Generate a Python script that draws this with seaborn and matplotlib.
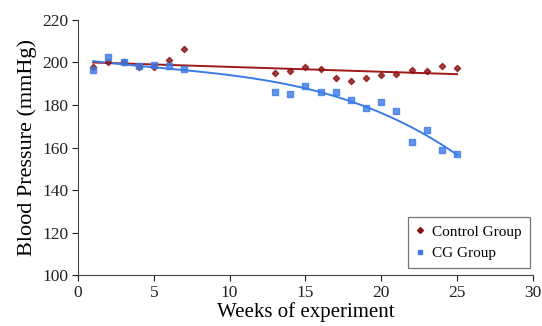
import numpy as np
import pandas as pd
import matplotlib.pyplot as plt
import seaborn as sns
from matplotlib.lines import Line2D

# weeks and blood pressure readings
control_weeks = [1, 2, 3, 4, 5, 6, 7, 13, 14, 15, 16, 17, 18, 19, 20, 21, 22, 23, 24, 25]
control_bp = [198, 200, 200, 198, 198, 201, 206.5, 195, 196, 198, 197, 192.5, 191.5, 192.5, 194, 194.5, 196.5, 196, 198.5, 197.5]

cg_weeks = [1, 2, 3, 4, 5, 6, 7, 13, 14, 15, 16, 17, 18, 19, 20, 21, 22, 23, 24, 25]
cg_bp = [196.5, 202.5, 200, 198.5, 199, 198.5, 197, 186, 185, 189, 186, 186, 182.5, 178.5, 181.5, 177, 162.5, 168, 159, 157]

control = pd.DataFrame({'week': control_weeks, 'bp': control_bp})
cg = pd.DataFrame({'week': cg_weeks, 'bp': cg_bp})

plt.rcParams['font.family'] = ['Liberation Serif', 'DejaVu Serif']

fig, ax = plt.subplots(figsize=(5.42, 3.26), dpi=100)
fig.subplots_adjust(left=0.144, right=0.983, top=0.939, bottom=0.156)

red = '#8B1010'
blue = '#3C7BE6'

sns.regplot(data=control, x='week', y='bp', order=1, ci=None, ax=ax,
            marker='D', scatter_kws={'s': 10, 'color': red, 'zorder': 3},
            line_kws={'color': '#A01818', 'lw': 1.4})
sns.regplot(data=cg, x='week', y='bp', order=3, ci=None, ax=ax,
            marker='s', scatter_kws={'s': 14, 'color': blue, 'zorder': 3},
            line_kws={'color': blue, 'lw': 1.4})

ax.set_xlim(0, 30)
ax.set_ylim(100, 220)
ax.set_xticks(range(0, 31, 5))
ax.set_yticks(range(100, 221, 20))
ax.tick_params(direction='out', length=4, labelsize=12.5, colors='#222222', pad=3)
ax.set_xlabel('Weeks of experiment', fontsize=15, labelpad=1)
ax.set_ylabel('Blood Pressure (mmHg)', fontsize=16, labelpad=4)
for s in ['top', 'right']:
    ax.spines[s].set_visible(False)
for s in ['left', 'bottom']:
    ax.spines[s].set_color('#444444')

handles = [Line2D([], [], ls='', marker='D', ms=3, color=red),
           Line2D([], [], ls='', marker='s', ms=3.5, color=blue)]
leg = ax.legend(handles, ['Control Group', 'CG Group'], loc='lower right',
                bbox_to_anchor=(1.01, 0.0), fontsize=11, fancybox=False,
                edgecolor='#777777', framealpha=1, handlelength=0.6,
                handletextpad=0.5, borderpad=0.5, labelspacing=0.5)
leg.get_frame().set_linewidth(0.9)

plt.savefig('out.png', dpi=100)
